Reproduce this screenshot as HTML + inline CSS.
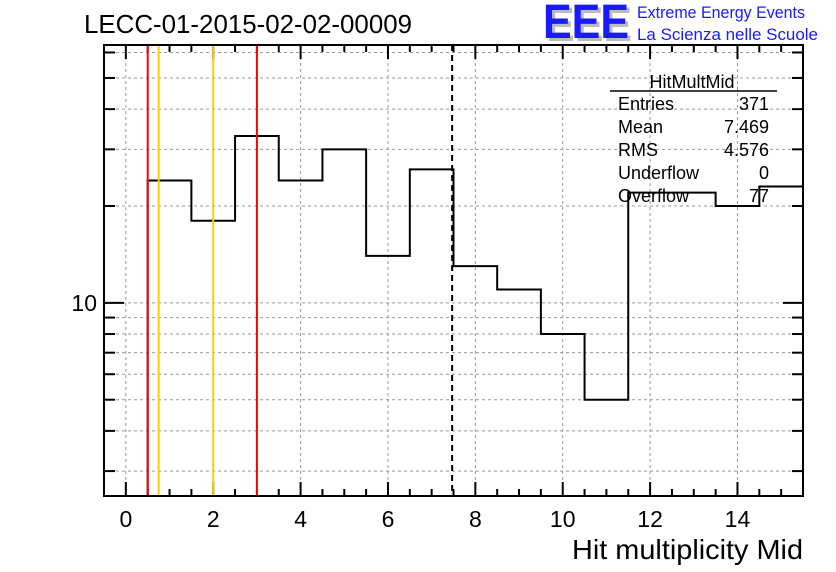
<!DOCTYPE html>
<html><head><meta charset="utf-8"><style>
html,body{margin:0;padding:0;background:#fff;}
svg{display:block;font-family:"Liberation Sans",sans-serif;}
</style></head><body>
<svg id="chart" width="836" height="572" viewBox="0 0 836 572">
<rect width="836" height="572" fill="#fff"/>
<text x="84" y="33" font-size="26" fill="#000" textLength="328" lengthAdjust="spacingAndGlyphs">LECC-01-2015-02-02-00009</text>
<g>
<text x="546" y="41" font-size="48" font-weight="bold" fill="#bbb" textLength="86" lengthAdjust="spacingAndGlyphs">EEE</text>
<text x="543" y="38" font-size="48" font-weight="bold" fill="#1a1aff" textLength="86" lengthAdjust="spacingAndGlyphs">EEE</text>
<text x="637" y="18" font-size="17" fill="#1a1aff" textLength="168" lengthAdjust="spacingAndGlyphs">Extreme Energy Events</text>
<text x="637" y="40" font-size="17" fill="#1a1aff" textLength="181" lengthAdjust="spacingAndGlyphs">La Scienza nelle Scuole</text>
</g>
<g id="grid"></g>
<g id="axes"></g>
<g id="marks"></g>
<g font-size="18" fill="#000">
<text x="692" y="88" text-anchor="middle">HitMultMid</text>
<line x1="610" y1="91" x2="777" y2="91" stroke="#000" stroke-width="1.5"/>
<text x="618" y="110">Entries</text><text x="769" y="110" text-anchor="end">371</text>
<text x="618" y="133">Mean</text><text x="769" y="133" text-anchor="end">7.469</text>
<text x="618" y="156">RMS</text><text x="769" y="156" text-anchor="end">4.576</text>
<text x="618" y="179">Underflow</text><text x="769" y="179" text-anchor="end">0</text>
<text x="618" y="202">Overflow</text><text x="769" y="202" text-anchor="end">77</text>
</g>
<text x="803" y="559" font-size="28" text-anchor="end" textLength="231" lengthAdjust="spacingAndGlyphs">Hit multiplicity Mid</text>
</svg>
<script>
const binCenters = [1,2,3,4,5,6,7,8,9,10,11,12,13,14,15];
const binCounts = [24,18,33,24,30,14,26,13,11,8,5,22,22,20,23];
const xTickLabels = [0,2,4,6,8,10,12,14];
const yMajorTicks = [10];
const yMinorTicks = [3,4,5,6,7,8,9,20,30,40,50,60];
const redLines = [0.5,3.0];
const yellowLines = [0.75,2.0];
const meanValue = 7.469;

const L=104,R=803,T=45,B=496;
const xMin=-0.5,xMax=15.5,yMin=2.51,yMax=63.3;
const X=v=>L+(v-xMin)/(xMax-xMin)*(R-L);
const Y=v=>B-(Math.log10(v)-Math.log10(yMin))/(Math.log10(yMax)-Math.log10(yMin))*(B-T);
const NS="http://www.w3.org/2000/svg";
function mk(tag,attrs,parent){const e=document.createElementNS(NS,tag);for(const k in attrs)e.setAttribute(k,attrs[k]);parent.appendChild(e);return e;}
const grid=document.getElementById('grid'),marks=document.getElementById('marks'),axes=document.getElementById('axes');
const gs={stroke:'#999','stroke-width':1,'stroke-dasharray':'3,3'};
xTickLabels.forEach(v=>{const l=mk('line',Object.assign({x1:X(v),x2:X(v),y1:T,y2:B},gs),grid);

});
yMajorTicks.concat(yMinorTicks).forEach(v=>{const l=mk('line',Object.assign({x1:L,x2:R,y1:Y(v),y2:Y(v)},gs),grid);

});
// x ticks
for(let v=0;v<=15;v+=0.5){const major=(v%2===0),len=major?14:7;
mk('line',{x1:X(v),x2:X(v),y1:B,y2:B-len,stroke:'#000','stroke-width':2},axes);
mk('line',{x1:X(v),x2:X(v),y1:T,y2:T+len,stroke:'#000','stroke-width':2},axes);}
xTickLabels.forEach(v=>{const t=mk('text',{x:X(v),y:527,'font-size':23,'text-anchor':'middle'},axes);t.textContent=v;

});
// y ticks
yMajorTicks.forEach(v=>{mk('line',{x1:L,x2:L+20,y1:Y(v),y2:Y(v),stroke:'#000','stroke-width':2},axes);
mk('line',{x1:R,x2:R-20,y1:Y(v),y2:Y(v),stroke:'#000','stroke-width':2},axes);
const t=mk('text',{x:L-7,y:Y(v)+8,'font-size':23,'text-anchor':'end'},axes);t.textContent=v;

});
yMinorTicks.forEach(v=>{mk('line',{x1:L,x2:L+11,y1:Y(v),y2:Y(v),stroke:'#000','stroke-width':2},axes);
mk('line',{x1:R,x2:R-11,y1:Y(v),y2:Y(v),stroke:'#000','stroke-width':2},axes);});
// histogram path
let d='M'+X(binCenters[0]-0.5)+','+B;
binCenters.forEach((c,i)=>{const y=Math.max(T,Y(binCounts[i]));d+=' L'+X(c-0.5)+','+y+' L'+Math.min(R,X(c+0.5))+','+y;});
const h=mk('path',{d:d,fill:'none',stroke:'#000','stroke-width':2},marks);


redLines.forEach(v=>{const l=mk('line',{x1:X(v),x2:X(v),y1:T,y2:B,stroke:'#f00','stroke-width':2},marks);

});
yellowLines.forEach(v=>{const l=mk('line',{x1:X(v),x2:X(v),y1:T,y2:B,stroke:'#fc0','stroke-width':2},marks);

});
const ml=mk('line',{x1:X(meanValue),x2:X(meanValue),y1:T,y2:B,stroke:'#000','stroke-width':2,'stroke-dasharray':'6,4'},marks);


// frame
const fr=mk('rect',{x:L,y:T,width:R-L,height:B-T,fill:'none',stroke:'#000','stroke-width':2},marks);


</script>
</body></html>
